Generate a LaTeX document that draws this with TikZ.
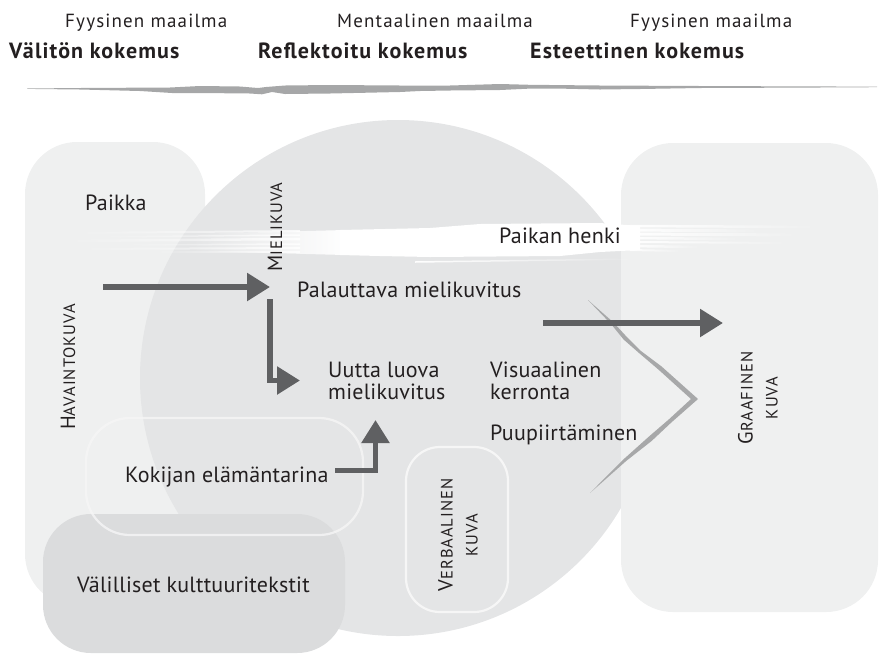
\documentclass[tikz,border=0pt]{standalone}
\usepackage{fontspec}
\setmainfont{PT Sans}
\newfontfamily\bodyfont[LetterSpace=1]{PT Sans}
\newfontfamily\topfont[LetterSpace=6]{PT Sans}
\newfontfamily\headfont[LetterSpace=5]{PT Sans Bold}
\newfontfamily\capsfont[LetterSpace=6]{PT Sans}
\usetikzlibrary{arrows.meta,fadings}

\definecolor{ink}{HTML}{231F20}
\definecolor{paleA}{HTML}{EFF0F0}
\definecolor{disc}{HTML}{E4E5E6}
\definecolor{boxdark}{HTML}{DBDCDD}
\definecolor{arrowgrey}{HTML}{5F6062}
\definecolor{crackgrey}{HTML}{A7A8A9}
\definecolor{rulegrey}{HTML}{A6A7A8}
\definecolor{rim}{HTML}{F6F6F6}

\tikzfading[name=streakin, left color=transparent!100, right color=transparent!0]
\tikzfading[name=streakout, left color=transparent!0, right color=transparent!100]

% small-capital lettering: large initial, smaller capitals
\newcommand\capsL[1]{{\fontsize{20.5}{25}\selectfont #1}}
\newcommand\capsS[1]{{\fontsize{16.5}{25}\selectfont #1}}

\tikzset{
  lbl/.style={inner sep=0pt, text=ink, font=\bodyfont\fontsize{22}{23}\selectfont},
  toplbl/.style={inner sep=0pt, text=ink, font=\topfont\fontsize{19}{21}\selectfont},
  headlbl/.style={inner sep=0pt, text=ink, font=\headfont\fontsize{22}{24}\selectfont},
  capslbl/.style={inner sep=0pt, text=ink, rotate=90, align=center,
    font=\capsfont\fontsize{16.5}{25}\selectfont},
  flow/.style={draw=arrowgrey, line width=5.5pt, line join=miter,
    -{Triangle[length=23pt,width=27pt]}},
  rimline/.style={draw=rim, line width=2.2pt},
}

\begin{document}
\begin{tikzpicture}[x=1pt,y=-1pt]
\useasboundingbox (0,0) rectangle (880,657);

% ---- heading row ----
\node[toplbl, anchor=base west] (w1) at (65,27) {Fyysinen maailma};
\node[toplbl, anchor=base west] (w2) at (337,27) {Mentaalinen maailma};
\node[toplbl, anchor=base west] (w3) at (630,27) {Fyysinen maailma};
\node[headlbl, anchor=base west] (e1) at (9,58) {Välitön kokemus};
\node[headlbl, anchor=base west] (e2) at (258,58) {Reflektoitu kokemus};
\node[headlbl, anchor=base west] (e3) at (530,58) {Esteettinen kokemus};

% brushed rule under the headings
\fill[rulegrey]
  (27,88.5) -- (80,88) -- (170,87.5) -- (200,86) -- (240,86.5) -- (258,88)
  -- (266,87) -- (285,85.5) -- (330,85) -- (400,85.5) -- (450,85.5)
  -- (500,84) -- (530,84.8) -- (600,85.5) -- (700,86) -- (800,86.4) -- (877,86.6)
  -- (877,87.2) -- (800,87.6) -- (700,88) -- (640,89) -- (600,89.5)
  -- (560,88.6) -- (530,88.6) -- (500,90) -- (450,90.5) -- (420,91)
  -- (400,92) -- (330,93.5) -- (285,94) -- (272,92) -- (262,94.3)
  -- (250,93.5) -- (200,93) -- (172,93) -- (140,91) -- (80,89.5) -- (27,88.9) -- cycle;

% ---- regions ----
\fill[paleA, rounded corners=52pt] (25,142) rectangle (205,606);
\fill[disc] (398,378) circle [radius=258pt];
\fill[paleA, rounded corners=52pt] (621,143) rectangle (878,612);
\fill[boxdark, rounded corners=48pt] (43,514) rectangle (345,653);
\draw[rimline, opacity=0.8, rounded corners=44pt] (86,418) rectangle (363,535);
\draw[rimline, rounded corners=34pt] (406,447) rectangle (508,612);

% ---- white brush streak ----
\foreach \ya/\yb/\xs/\w in {233/231/70/2, 237/235/95/1.5, 241/239/60/2.5, 245/244/120/1.5, 249/248/75/2, 252/252/150/1.2}
  \draw[white, line width=\w pt, opacity=0.8, path fading=streakin] (\xs,\ya) -- (300,\yb);
\fill[white, path fading=streakin] (190,234) -- (345,230) -- (345,255) -- (190,251) -- cycle;
\fill[white] (340,230) -- (430,228) -- (480,224) -- (600,223) -- (640,226)
  -- (640,250) -- (600,252) -- (560,256) -- (430,257) -- (380,256) -- (340,255) -- cycle;
\foreach \ya/\xe/\w in {226/820/2.5, 230/760/3, 234/800/3, 238/740/2.5, 242/790/2, 246/700/2.5, 250/680/2}
  \draw[white, line width=\w pt, path fading=streakout] (630,\ya) -- (\xe,\ya+1);
\draw[white, line width=1.5pt, path fading=streakout] (415,262) -- (640,259);

% ---- crack ----
\fill[crackgrey]
  (588,300) -- (613,322) -- (626.4,336.5) -- (641,351) -- (661.5,366.4) -- (698,399)
  -- (671.3,422.5) -- (651.7,440.9) -- (626,461.1) -- (590,493)
  -- (624,458.9) -- (648.3,437.1) -- (668.7,419.5) -- (691,399)
  -- (658.5,369.6) -- (639,353) -- (623.6,339.5) -- (611,324) -- cycle;

% ---- texts ----
\node[lbl, anchor=base west] (paikka) at (85,210) {Paikka};
\node[lbl, anchor=base west] (henki) at (499,243) {Paikan henki};
\node[lbl, anchor=base west] (palaut) at (297,297) {Palauttava mielikuvitus};
\node[lbl, anchor=base west] (uutta1) at (328,377) {Uutta luova};
\node[lbl, anchor=base west] (uutta2) at (328,399) {mielikuvitus};
\node[lbl, anchor=base west] (visu1) at (490,377) {Visuaalinen};
\node[lbl, anchor=base west] (visu2) at (490,399) {kerronta};
\node[lbl, anchor=base west] (puu) at (490,440) {Puupiirtäminen};
\node[lbl, anchor=base west] (kokija) at (125,482) {Kokijan elämäntarina};
\node[lbl, anchor=base west] (valil) at (77,592) {Välilliset kulttuuritekstit};

\node[capslbl] (mieli) at (275,227) {\capsL{M}\capsS{IELIKUVA}};
\node[capslbl] (havainto) at (68,367) {\capsL{H}\capsS{AVAINTOKUVA}};
\node[capslbl] (verbaal) at (458,535) {\capsL{V}\capsS{ERBAALINEN}\\\capsS{KUVA}};
\node[capslbl] (graaf) at (758,398) {\capsL{G}\capsS{RAAFINEN}\\\capsS{KUVA}};

% ---- flows ----
\coordinate (h0) at (103,287);   \coordinate (h1) at (270,287);
\coordinate (m0) at (270,299);   \coordinate (m1) at (300,380.5);
\coordinate (k0) at (335,470.5); \coordinate (k1) at (375.5,420);
\coordinate (g0) at (543,323);   \coordinate (g1) at (723,323);
\draw[flow] (h0) -- (h1);
\draw[flow] (m0) |- (m1);
\draw[flow] (k0) -| (k1);
\draw[flow] (g0) -- (g1);
\end{tikzpicture}
\end{document}
